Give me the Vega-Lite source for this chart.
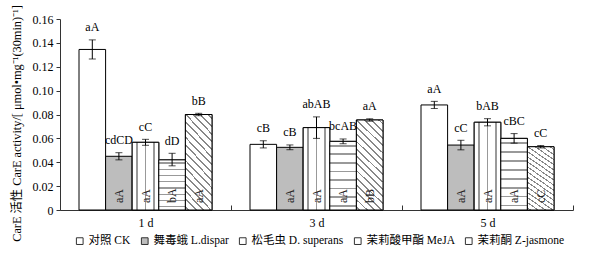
{
  "$schema": "https://vega.github.io/schema/vega-lite/v6.json",
  "autosize": {"type": "none"},
  "padding": {"left": 60, "top": 19, "right": 20, "bottom": 47},
  "width": 513,
  "height": 191,
  "background": "white",
  "config": {
    "view": {"stroke": null},
    "font": "Liberation Serif, Noto Sans CJK SC",
    "axis": {"labelFont": "Liberation Serif", "labelFontSize": 12, "labelColor": "black", "domainColor": "#333", "tickColor": "#333", "grid": false, "labelOverlap": false, "titleFont": "Liberation Serif, Noto Sans CJK SC", "titleFontWeight": "normal", "titleFontSize": 12.3, "titleColor": "black"},
    "legend": {"labelFont": "Liberation Serif, Noto Sans CJK SC", "labelFontSize": 11.5, "labelColor": "black"}
  },
  "data": {"values": [
    {"day": "1 d", "trt": "对照 CK", "value": 0.1345, "lo": 0.1265, "hi": 0.1425, "top": "aA", "inner": ""},
    {"day": "1 d", "trt": "舞毒蛾 L.dispar", "value": 0.045, "lo": 0.042, "hi": 0.048, "top": "cdCD", "inner": "aA"},
    {"day": "1 d", "trt": "松毛虫 D. superans", "value": 0.0567, "lo": 0.0542, "hi": 0.0592, "top": "cC", "inner": "aA"},
    {"day": "1 d", "trt": "茉莉酸甲酯 MeJA", "value": 0.042, "lo": 0.037, "hi": 0.0475, "top": "dD", "inner": "bA"},
    {"day": "1 d", "trt": "茉莉酮 Z-jasmone", "value": 0.080, "lo": 0.079, "hi": 0.081, "top": "bB", "inner": "aA"},
    {"day": "3 d", "trt": "对照 CK", "value": 0.055, "lo": 0.052, "hi": 0.058, "top": "cB", "inner": ""},
    {"day": "3 d", "trt": "舞毒蛾 L.dispar", "value": 0.0525, "lo": 0.0505, "hi": 0.0545, "top": "cB", "inner": "aA"},
    {"day": "3 d", "trt": "松毛虫 D. superans", "value": 0.069, "lo": 0.060, "hi": 0.078, "top": "abAB", "inner": "aA"},
    {"day": "3 d", "trt": "茉莉酸甲酯 MeJA", "value": 0.0575, "lo": 0.0555, "hi": 0.0595, "top": "bcAB", "inner": "aA"},
    {"day": "3 d", "trt": "茉莉酮 Z-jasmone", "value": 0.0754, "lo": 0.0744, "hi": 0.0764, "top": "aA", "inner": "bB"},
    {"day": "5 d", "trt": "对照 CK", "value": 0.088, "lo": 0.085, "hi": 0.091, "top": "aA", "inner": ""},
    {"day": "5 d", "trt": "舞毒蛾 L.dispar", "value": 0.0544, "lo": 0.0504, "hi": 0.0584, "top": "cC", "inner": "aA"},
    {"day": "5 d", "trt": "松毛虫 D. superans", "value": 0.0735, "lo": 0.0705, "hi": 0.0765, "top": "bAB", "inner": "aA"},
    {"day": "5 d", "trt": "茉莉酸甲酯 MeJA", "value": 0.060, "lo": 0.056, "hi": 0.064, "top": "cBC", "inner": "aA"},
    {"day": "5 d", "trt": "茉莉酮 Z-jasmone", "value": 0.053, "lo": 0.052, "hi": 0.054, "top": "cC", "inner": "cC"}
  ]},
  "encoding": {
    "x": {"field": "day", "type": "nominal", "scale": {"paddingInner": 0, "paddingOuter": 0},
      "axis": {"title": null, "labelAngle": 0, "tickBand": "extent", "tickSize": -5, "labelPadding": 12, "domainWidth": 1}},
    "xOffset": {"field": "trt", "type": "nominal", "scale": {"domain": ["对照 CK", "舞毒蛾 L.dispar", "松毛虫 D. superans", "茉莉酸甲酯 MeJA", "茉莉酮 Z-jasmone"], "paddingInner": 0, "paddingOuter": 0.715}},
    "y": {"field": "value", "type": "quantitative", "scale": {"domain": [0, 0.16], "nice": false},
      "axis": {"values": [0, 0.02, 0.04, 0.06, 0.08, 0.1, 0.12, 0.14, 0.16], "tickCount": 20, "labelOverlap": false, "labelExpr": "datum.value == 0 ? '0' : format(datum.value, '.2f')", "tickSize": 4, "labelPadding": 3,
        "title": "CarE 活性 CarE activity/[ μmol•mg⁻¹(30min)⁻¹]", "titleX": -44, "titleY": 104, "titleAngle": 270, "titleAlign": "center", "titleBaseline": "middle"}}
  },
  "layer": [
    {
      "mark": {"type": "bar", "stroke": "black", "strokeWidth": 1},
      "encoding": {
        "fill": {"field": "trt", "type": "nominal",
          "scale": {"domain": ["对照 CK", "舞毒蛾 L.dispar", "松毛虫 D. superans", "茉莉酸甲酯 MeJA", "茉莉酮 Z-jasmone"], "range": ["white", "#bdbdbd", "white", "white", "white"]},
          "legend": {"title": null, "orient": "none", "direction": "horizontal", "legendX": 14, "legendY": 216, "symbolType": "square", "symbolSize": 45, "symbolStrokeColor": "#333", "symbolStrokeWidth": 1, "columnPadding": 8, "labelOffset": 3}}
      }
    },
    {
      "transform": [{"filter": "datum.trt == '松毛虫 D. superans'"}],
      "mark": {"type": "bar", "stroke": "black", "strokeWidth": 1, "fill": {"gradient": "linear", "x1": 0, "y1": 0, "x2": 1, "y2": 0, "stops": [
        {"offset": 0, "color": "white"}, {"offset": 0.14, "color": "white"}, {"offset": 0.14, "color": "#999"}, {"offset": 0.2, "color": "#999"}, {"offset": 0.2, "color": "white"},
        {"offset": 0.47, "color": "white"}, {"offset": 0.47, "color": "#999"}, {"offset": 0.53, "color": "#999"}, {"offset": 0.53, "color": "white"},
        {"offset": 0.8, "color": "white"}, {"offset": 0.8, "color": "#999"}, {"offset": 0.86, "color": "#999"}, {"offset": 0.86, "color": "white"}, {"offset": 1, "color": "white"}]}}
    },
    {
      "transform": [{"filter": "datum.trt == '茉莉酸甲酯 MeJA'"}],
      "mark": {"type": "bar", "stroke": "black", "strokeWidth": 1, "fill": {"gradient": "linear", "x1": 0, "y1": 0, "x2": 0, "y2": 1, "stops": [
        {"offset": 0, "color": "white"}, {"offset": 0.05, "color": "white"}, {"offset": 0.05, "color": "#999"}, {"offset": 0.075, "color": "#999"}, {"offset": 0.075, "color": "white"},
        {"offset": 0.175, "color": "white"}, {"offset": 0.175, "color": "#999"}, {"offset": 0.2, "color": "#999"}, {"offset": 0.2, "color": "white"},
        {"offset": 0.3, "color": "white"}, {"offset": 0.3, "color": "#999"}, {"offset": 0.325, "color": "#999"}, {"offset": 0.325, "color": "white"},
        {"offset": 0.425, "color": "white"}, {"offset": 0.425, "color": "#999"}, {"offset": 0.45, "color": "#999"}, {"offset": 0.45, "color": "white"},
        {"offset": 0.55, "color": "white"}, {"offset": 0.55, "color": "#999"}, {"offset": 0.575, "color": "#999"}, {"offset": 0.575, "color": "white"},
        {"offset": 0.675, "color": "white"}, {"offset": 0.675, "color": "#999"}, {"offset": 0.7, "color": "#999"}, {"offset": 0.7, "color": "white"},
        {"offset": 0.8, "color": "white"}, {"offset": 0.8, "color": "#999"}, {"offset": 0.825, "color": "#999"}, {"offset": 0.825, "color": "white"},
        {"offset": 0.925, "color": "white"}, {"offset": 0.925, "color": "#999"}, {"offset": 0.95, "color": "#999"}, {"offset": 0.95, "color": "white"},
        {"offset": 1, "color": "white"}]}}
    },
    {
      "transform": [{"filter": "datum.trt == '茉莉酮 Z-jasmone'"}],
      "mark": {"type": "bar", "stroke": "black", "strokeWidth": 1, "fill": {"gradient": "linear", "x1": 0, "y1": 1, "x2": 0.345, "y2": -0.19, "stops": [
        {"offset": 0, "color": "white"},
        {"offset": 0.02, "color": "white"}, {"offset": 0.02, "color": "#888"}, {"offset": 0.036, "color": "#888"}, {"offset": 0.036, "color": "white"},
        {"offset": 0.0825, "color": "white"}, {"offset": 0.0825, "color": "#888"}, {"offset": 0.0985, "color": "#888"}, {"offset": 0.0985, "color": "white"},
        {"offset": 0.145, "color": "white"}, {"offset": 0.145, "color": "#888"}, {"offset": 0.161, "color": "#888"}, {"offset": 0.161, "color": "white"},
        {"offset": 0.2075, "color": "white"}, {"offset": 0.2075, "color": "#888"}, {"offset": 0.2235, "color": "#888"}, {"offset": 0.2235, "color": "white"},
        {"offset": 0.27, "color": "white"}, {"offset": 0.27, "color": "#888"}, {"offset": 0.286, "color": "#888"}, {"offset": 0.286, "color": "white"},
        {"offset": 0.3325, "color": "white"}, {"offset": 0.3325, "color": "#888"}, {"offset": 0.3485, "color": "#888"}, {"offset": 0.3485, "color": "white"},
        {"offset": 0.395, "color": "white"}, {"offset": 0.395, "color": "#888"}, {"offset": 0.411, "color": "#888"}, {"offset": 0.411, "color": "white"},
        {"offset": 0.4575, "color": "white"}, {"offset": 0.4575, "color": "#888"}, {"offset": 0.4735, "color": "#888"}, {"offset": 0.4735, "color": "white"},
        {"offset": 0.52, "color": "white"}, {"offset": 0.52, "color": "#888"}, {"offset": 0.536, "color": "#888"}, {"offset": 0.536, "color": "white"},
        {"offset": 0.5825, "color": "white"}, {"offset": 0.5825, "color": "#888"}, {"offset": 0.5985, "color": "#888"}, {"offset": 0.5985, "color": "white"},
        {"offset": 0.645, "color": "white"}, {"offset": 0.645, "color": "#888"}, {"offset": 0.661, "color": "#888"}, {"offset": 0.661, "color": "white"},
        {"offset": 0.7075, "color": "white"}, {"offset": 0.7075, "color": "#888"}, {"offset": 0.7235, "color": "#888"}, {"offset": 0.7235, "color": "white"},
        {"offset": 0.77, "color": "white"}, {"offset": 0.77, "color": "#888"}, {"offset": 0.786, "color": "#888"}, {"offset": 0.786, "color": "white"},
        {"offset": 0.8325, "color": "white"}, {"offset": 0.8325, "color": "#888"}, {"offset": 0.8485, "color": "#888"}, {"offset": 0.8485, "color": "white"},
        {"offset": 0.895, "color": "white"}, {"offset": 0.895, "color": "#888"}, {"offset": 0.911, "color": "#888"}, {"offset": 0.911, "color": "white"},
        {"offset": 0.9575, "color": "white"}, {"offset": 0.9575, "color": "#888"}, {"offset": 0.9735, "color": "#888"}, {"offset": 0.9735, "color": "white"},
        {"offset": 1, "color": "white"}]}}
    },
    {
      "mark": {"type": "rule", "color": "black", "strokeWidth": 1},
      "encoding": {"y": {"field": "lo", "type": "quantitative"}, "y2": {"field": "hi"}}
    },
    {
      "mark": {"type": "tick", "color": "black", "size": 7, "thickness": 1},
      "encoding": {"y": {"field": "lo", "type": "quantitative"}}
    },
    {
      "mark": {"type": "tick", "color": "black", "size": 7, "thickness": 1},
      "encoding": {"y": {"field": "hi", "type": "quantitative"}}
    },
    {
      "mark": {"type": "text", "font": "Liberation Serif", "fontSize": 12, "color": "black", "baseline": "middle", "dy": -12.5},
      "encoding": {"y": {"field": "hi", "type": "quantitative"}, "text": {"field": "top"}}
    },
    {
      "transform": [{"filter": "datum.inner != ''"}],
      "mark": {"type": "text", "font": "Liberation Serif", "fontSize": 12, "color": "#222", "angle": 270, "align": "left", "baseline": "middle", "dx": 7},
      "encoding": {"y": {"datum": 0, "type": "quantitative"}, "text": {"field": "inner"}}
    }
  ]
}
